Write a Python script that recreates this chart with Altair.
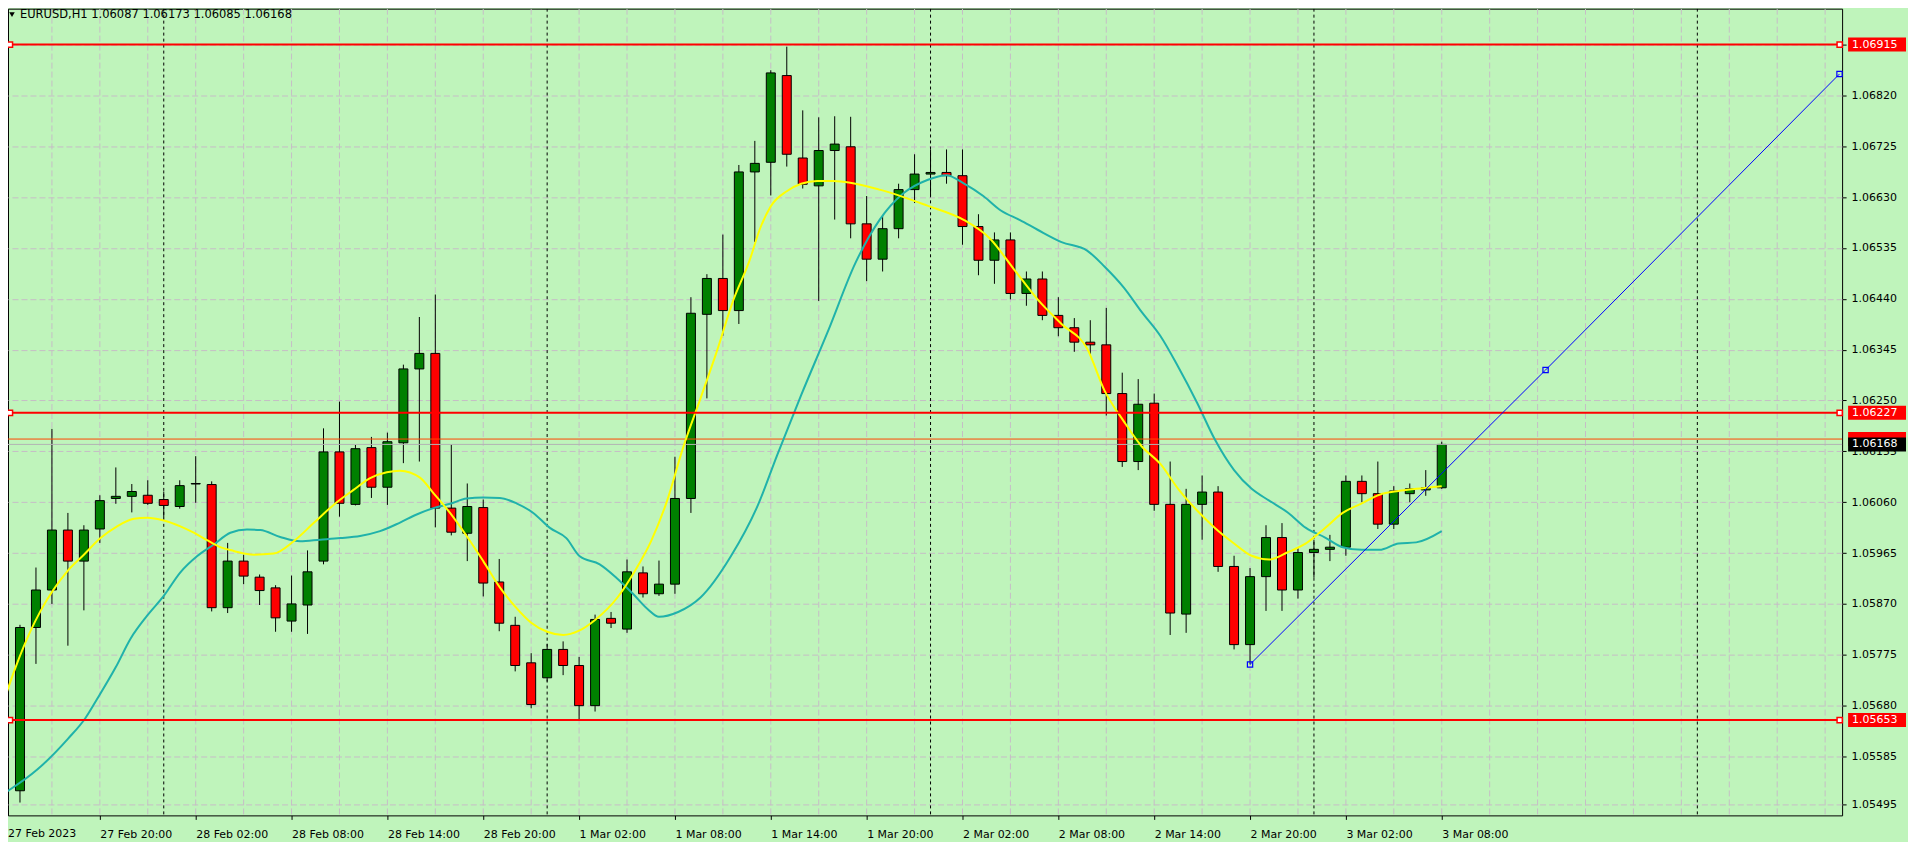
import altair as alt
import pandas as pd

# ---------------- data ----------------
bar_index = list(range(91))
opens = [1.05625, 1.05521, 1.05826, 1.05896, 1.06008, 1.05950, 1.06010, 1.06067, 1.06071, 1.06073,
         1.06065, 1.06052, 1.06094, 1.06093, 1.05863, 1.05950, 1.05920, 1.05900, 1.05838, 1.05868,
         1.05950, 1.06154, 1.06056, 1.06162, 1.06088, 1.06171, 1.06309, 1.06338, 1.06049, 1.06002,
         1.06050, 1.05911, 1.05830, 1.05760, 1.05732, 1.05785, 1.05755, 1.05680, 1.05843, 1.05823,
         1.05928, 1.05889, 1.05907, 1.06067, 1.06411, 1.06478, 1.06418, 1.06677, 1.06695, 1.06857,
         1.06703, 1.06651, 1.06717, 1.06724, 1.06580, 1.06514, 1.06571, 1.06644, 1.06673, 1.06676,
         1.06670, 1.06575, 1.06512, 1.06550, 1.06450, 1.06477, 1.06409, 1.06386, 1.06359, 1.06354,
         1.06263, 1.06136, 1.06245, 1.06056, 1.05851, 1.06056, 1.06079, 1.05940, 1.05794, 1.05921,
         1.05994, 1.05896, 1.05966, 1.05972, 1.05976, 1.06099, 1.06076, 1.06019, 1.06076, 1.06083,
         1.06087]
highs = [1.05660, 1.05831, 1.05938, 1.06197, 1.06040, 1.06017, 1.06073, 1.06125, 1.06094, 1.06101,
         1.06080, 1.06101, 1.06146, 1.06099, 1.05984, 1.05962, 1.05925, 1.05905, 1.05923, 1.05970,
         1.06198, 1.06248, 1.06167, 1.06182, 1.06190, 1.06317, 1.06406, 1.06448, 1.06168, 1.06095,
         1.06065, 1.05954, 1.05846, 1.05778, 1.05795, 1.05800, 1.05771, 1.05850, 1.05855, 1.05953,
         1.05940, 1.05951, 1.06145, 1.06443, 1.06486, 1.06560, 1.06690, 1.06735, 1.06867, 1.06911,
         1.06792, 1.06779, 1.06781, 1.06780, 1.06632, 1.06596, 1.06655, 1.06710, 1.06719, 1.06719,
         1.06719, 1.06598, 1.06564, 1.06564, 1.06491, 1.06491, 1.06443, 1.06404, 1.06400, 1.06423,
         1.06302, 1.06290, 1.06263, 1.06136, 1.06085, 1.06110, 1.06090, 1.05960, 1.05937, 1.06017,
         1.06021, 1.05974, 1.05990, 1.05999, 1.06110, 1.06110, 1.06136, 1.06090, 1.06095, 1.06120,
         1.06173]
lows = [1.05560, 1.05499, 1.05758, 1.05870, 1.05792, 1.05858, 1.05984, 1.06057, 1.06041, 1.06055,
        1.06030, 1.06048, 1.06059, 1.05856, 1.05853, 1.05907, 1.05868, 1.05818, 1.05818, 1.05814,
        1.05944, 1.06033, 1.06054, 1.06068, 1.06055, 1.06133, 1.06136, 1.06013, 1.05998, 1.05950,
        1.05884, 1.05819, 1.05744, 1.05675, 1.05725, 1.05737, 1.05653, 1.05669, 1.05825, 1.05816,
        1.05882, 1.05885, 1.05889, 1.06040, 1.06254, 1.06371, 1.06393, 1.06546, 1.06633, 1.06687,
        1.06646, 1.06436, 1.06588, 1.06553, 1.06473, 1.06491, 1.06553, 1.06619, 1.06632, 1.06655,
        1.06541, 1.06484, 1.06468, 1.06439, 1.06427, 1.06400, 1.06370, 1.06341, 1.06336, 1.06222,
        1.06126, 1.06120, 1.06044, 1.05812, 1.05816, 1.05990, 1.05930, 1.05785, 1.05757, 1.05857,
        1.05857, 1.05880, 1.05919, 1.05950, 1.05960, 1.06060, 1.06010, 1.06010, 1.06060, 1.06072,
        1.06085]
closes = [1.05590, 1.05826, 1.05896, 1.06008, 1.05950, 1.06008, 1.06063, 1.06071, 1.06080, 1.06058,
          1.06054, 1.06091, 1.06095, 1.05863, 1.05950, 1.05922, 1.05895, 1.05844, 1.05870, 1.05930,
          1.06154, 1.06058, 1.06160, 1.06088, 1.06173, 1.06309, 1.06338, 1.06049, 1.06004, 1.06052,
          1.05909, 1.05834, 1.05755, 1.05682, 1.05785, 1.05755, 1.05680, 1.05841, 1.05834, 1.05930,
          1.05889, 1.05907, 1.06067, 1.06413, 1.06478, 1.06418, 1.06677, 1.06693, 1.06862, 1.06710,
          1.06654, 1.06717, 1.06729, 1.06580, 1.06514, 1.06571, 1.06644, 1.06673, 1.06676, 1.06670,
          1.06575, 1.06512, 1.06550, 1.06450, 1.06477, 1.06409, 1.06386, 1.06359, 1.06354, 1.06263,
          1.06136, 1.06243, 1.06056, 1.05853, 1.06056, 1.06079, 1.05940, 1.05794, 1.05921, 1.05994,
          1.05896, 1.05966, 1.05972, 1.05976, 1.06099, 1.06076, 1.06019, 1.06081, 1.06085, 1.06087,
          1.06168]

time_label_bars = [0, 6, 12, 18, 24, 30, 36, 42, 48, 54, 60, 66, 72, 78, 84, 90]
time_labels = ["27 Feb 2023", "27 Feb 20:00", "28 Feb 02:00", "28 Feb 08:00", "28 Feb 14:00",
               "28 Feb 20:00", "1 Mar 02:00", "1 Mar 08:00", "1 Mar 14:00", "1 Mar 20:00",
               "2 Mar 02:00", "2 Mar 08:00", "2 Mar 14:00", "2 Mar 20:00", "3 Mar 02:00",
               "3 Mar 08:00"]
price_ticks = [1.06915, 1.06820, 1.06725, 1.06630, 1.06535, 1.06440, 1.06345, 1.06250, 1.06155,
               1.06060, 1.05965, 1.05870, 1.05775, 1.05680, 1.05585, 1.05495]
day_separator_bars = [10, 34, 58, 82, 106]

fast_ma_bar = [0, 0.73, 1.67, 2.29, 3.96, 5.0, 6.04, 7.08, 8.13, 8.96, 10.0, 11.04, 11.88, 12.71,
               13.54, 14.38, 15.63, 16.88, 18.13, 19.38, 20.63, 21.88, 22.92, 23.96, 24.79, 26.04,
               26.88, 27.92, 28.96, 30.0, 31.04, 32, 33, 34, 35, 36, 37, 38.4, 39.5, 40.5, 41.5,
               42.5, 43.6, 44.6, 45.6, 46.7, 47.3, 48.0, 49.0, 49.9, 50.9, 51.9, 54.8, 57.8, 60.1,
               61.7, 63.2, 64.7, 66.2, 67.8, 68.9, 70.1, 71.2, 72.4, 73.5, 74.7, 75.8, 77.0, 78.1,
               79.2, 80.4, 81.5, 82.7, 83.8, 85.0, 86.1, 87.3, 88.4, 90.0]
fast_ma_val = [1.05690, 1.05752, 1.05820, 1.05857, 1.05931, 1.05962, 1.05993, 1.06015, 1.06029,
               1.06031, 1.06026, 1.06015, 1.06003, 1.05989, 1.05976, 1.05969, 1.05962, 1.05964,
               1.05987, 1.06021, 1.06055, 1.06083, 1.06105, 1.06116, 1.06119, 1.06106, 1.06077,
               1.06040, 1.05997, 1.05950, 1.05901, 1.05865, 1.05835, 1.05818, 1.05812, 1.05820,
               1.05840, 1.05882, 1.05932, 1.05987, 1.06062, 1.06161, 1.06254, 1.06340, 1.06433,
               1.06514, 1.06569, 1.06613, 1.06641, 1.06655, 1.06660, 1.06660, 1.06644, 1.06614,
               1.06587, 1.06553, 1.06496, 1.06439, 1.06393, 1.06347, 1.06268, 1.06211, 1.06165,
               1.06131, 1.06085, 1.06044, 1.06012, 1.05983, 1.05960, 1.05953, 1.05967, 1.05983,
               1.06012, 1.06040, 1.06058, 1.06074, 1.06081, 1.06085, 1.06090]

slow_ma_bar = [0, 2.1, 4.0, 5.1, 5.8, 7.0, 7.92, 8.96, 10.0, 11.04, 12.08, 13.13, 14.17, 15.21,
               16.04, 17.29, 18.54, 19.79, 21.04, 22.29, 23.54, 24.79, 25.83, 26.88, 27.92, 28.96,
               30.0, 31.04, 32.08, 33.13, 34.17, 35.2, 36.04, 37.29, 38.33, 39.4, 40.3, 41.0, 42.2,
               43.6, 45.5, 47.2, 48.4, 49.9, 51.6, 53.3, 54.8, 56.3, 57.8, 59.0, 60.1, 61.3, 62.4,
               63.6, 64.7, 66.2, 67.8, 68.9, 70.1, 71.2, 72.4, 73.5, 74.7, 75.8, 77.0, 78.1, 79.2,
               80.4, 81.5, 82.7, 83.8, 85.0, 86.1, 87.3, 88.4, 90.0]
slow_ma_val = [1.05516, 1.05561, 1.05618, 1.05657, 1.05691, 1.05752, 1.05805, 1.05848, 1.05885,
               1.05929, 1.05959, 1.05981, 1.06003, 1.06009, 1.06008, 1.05995, 1.05987, 1.05990,
               1.05993, 1.05997, 1.06006, 1.06022, 1.06037, 1.06049, 1.06057, 1.06067, 1.06069,
               1.06068, 1.06058, 1.06040, 1.06012, 1.05993, 1.05959, 1.05944, 1.05919, 1.05888,
               1.05860, 1.05846, 1.05855, 1.05882, 1.05959, 1.06055, 1.06148, 1.06260, 1.06381,
               1.06507, 1.06587, 1.06637, 1.06662, 1.06671, 1.06655, 1.06632, 1.06605, 1.06587,
               1.06569, 1.06546, 1.06530, 1.06500, 1.06461, 1.06416, 1.06370, 1.06313, 1.06245,
               1.06177, 1.06120, 1.06085, 1.06063, 1.06040, 1.06012, 1.05994, 1.05976, 1.05971,
               1.05971, 1.05983, 1.05985, 1.06006]

level_prices = [1.06915, 1.06227, 1.05653]
ask_price = 1.06178
bid_price = 1.06168
trend_bar = [78, 96.5, 114.9]
trend_val = [1.05757, 1.06307, 1.06860]
header_symbol = "EURUSD,H1"
header_ohlc = ["1.06087", "1.06173", "1.06085", "1.06168"]

# ---------------- layout / style ----------------
W, H = 1837, 808
PX_PER_BAR = 16
XMIN = 0.25
XMAX = XMIN + W / PX_PER_BAR
YMIN, YMAX = 1.05475, 1.06982
BG = "#BFF4BB"
GRID = "#C6BDC6"
FONT = "DejaVu Sans"
TICK, LPAD = 4, 9

xs = alt.Scale(domain=[XMIN, XMAX], nice=False, zero=False, padding=0)
ys = alt.Scale(domain=[YMIN, YMAX], nice=False, zero=False, padding=0)

label_expr = "[" + ",".join("'%s'" % t for t in time_labels) + "][round(datum.value / 6)]"
x_axis = alt.Axis(values=time_label_bars[1:], labelExpr=label_expr, labelAlign="left",
                  grid=False, domain=False, ticks=True, tickSize=TICK, tickColor="black",
                  labelColor="black", labelFont=FONT, labelFontSize=11, labelPadding=LPAD,
                  title=None, labelOverlap=False, labelFlush=False, labelBound=False)
y_axis = alt.Axis(orient="right", values=price_ticks, format=".5f", grid=True, gridDash=[6, 3],
                  gridColor=GRID, gridWidth=1, domain=False, ticks=True, tickSize=4,
                  tickColor="black", labelColor="black", labelFont=FONT, labelFontSize=11,
                  labelPadding=5, title=None, labelOverlap=False)


def X(field):
    return alt.X(field, type="quantitative", scale=xs, axis=x_axis)


def Y(field):
    return alt.Y(field, type="quantitative", scale=ys, axis=y_axis)


candles = pd.DataFrame({"bar": bar_index, "open": opens, "high": highs, "low": lows,
                        "close": closes})

grid_bars = list(range(3, 116, 3))
vgrid = alt.Chart(pd.DataFrame({"bar": grid_bars})).mark_rule(
    color=GRID, strokeDash=[6, 3], strokeWidth=1, clip=True).encode(x=X("bar"))

daysep = alt.Chart(pd.DataFrame({"bar": day_separator_bars})).mark_rule(
    color="black", strokeDash=[3, 3], strokeWidth=1, clip=True).encode(x=X("bar"))

wicks = alt.Chart(candles).mark_rule(color="black", strokeWidth=1, clip=True).encode(
    x=X("bar"), y=Y("low"), y2="high:Q")

bodies = alt.Chart(candles).mark_bar(size=9, stroke="black", strokeWidth=1, clip=True).encode(
    x=X("bar"), y=Y("open"), y2="close:Q",
    fill=alt.condition("datum.close >= datum.open", alt.value("#008000"), alt.value("#FF0000")))

askbid = alt.Chart(pd.DataFrame({"price": [ask_price, bid_price],
                                 "c": ["#FF4500", "#B4B4B4"]})).mark_rule(strokeWidth=1).encode(
    y=Y("price"), color=alt.Color("c:N", scale=None))

fast = alt.Chart(pd.DataFrame({"bar": fast_ma_bar, "v": fast_ma_val})).mark_line(
    color="#FFFF00", strokeWidth=2, interpolate="monotone", clip=True).encode(
    x=X("bar"), y=Y("v"))

slow = alt.Chart(pd.DataFrame({"bar": slow_ma_bar, "v": slow_ma_val})).mark_line(
    color="#20B2AA", strokeWidth=2, interpolate="monotone", clip=True).encode(
    x=X("bar"), y=Y("v"))

levels = alt.Chart(pd.DataFrame({"price": level_prices})).mark_rule(
    color="#FF0000", strokeWidth=2).encode(y=Y("price"))

handle_rows = []
for p in level_prices:
    handle_rows.append({"bar": XMIN + 0.12, "price": p})
    handle_rows.append({"bar": XMAX - 0.15, "price": p})
level_handles = alt.Chart(pd.DataFrame(handle_rows)).mark_point(
    shape="square", filled=True, fill="white", stroke="#FF0000", strokeWidth=1.5, size=28,
    opacity=1).encode(x=X("bar"), y=Y("price"))

trend_df = pd.DataFrame({"bar": trend_bar, "v": trend_val})
trend = alt.Chart(trend_df).mark_line(color="#0000FF", strokeWidth=1).encode(
    x=X("bar"), y=Y("v"))
trend_handles = alt.Chart(trend_df).mark_point(
    shape="square", filled=False, color="#0000FF", strokeWidth=1.2, size=28, opacity=1).encode(
    x=X("bar"), y=Y("v"))

box_df = pd.DataFrame({
    "price": [level_prices[0], level_prices[1], level_prices[2], ask_price, bid_price],
    "text": ["%.5f" % level_prices[0], "%.5f" % level_prices[1], "%.5f" % level_prices[2],
             "", "%.5f" % bid_price],
    "fill": ["#FF0000", "#FF0000", "#FF0000", "#FF0000", "#000000"],
    "order": [0, 1, 2, 3, 4]})
boxes = alt.Chart(box_df).mark_rect(yOffset=-7, y2Offset=7).encode(
    x=alt.value(W + 6), x2=alt.value(W + 64),
    y=Y("price"), y2="price:Q",
    fill=alt.Color("fill:N", scale=None), order="order:Q")
box_text = alt.Chart(box_df).mark_text(align="left", baseline="middle", color="white",
                                       font=FONT, fontSize=11).encode(
    x=alt.value(W + 10), y=Y("price"), text="text:N", order="order:Q")

# first time label (its bar sits on the left border, so it is drawn as text)
first_label = alt.Chart(pd.DataFrame({"t": [time_labels[0]]})).mark_text(
    align="left", baseline="top", font=FONT, fontSize=11, color="black").encode(
    x=alt.value(0), y=alt.value(H + TICK + LPAD), text="t:N")

header = alt.Chart(pd.DataFrame({"t": [header_symbol + "  " + " ".join(header_ohlc)]})).mark_text(
    align="left", baseline="middle", font=FONT, fontSize=11.5, color="black").encode(
    x=alt.value(12), y=alt.value(6), text="t:N")
tri = alt.Chart(pd.DataFrame({"t": [header_symbol]})).mark_point(
    shape="triangle-down", filled=True, color="black", size=30, opacity=1).encode(
    x=alt.value(4), y=alt.value(6))

chart = alt.layer(vgrid, daysep, wicks, bodies, askbid, slow, fast, levels, trend,
                  trend_handles, level_handles, boxes, box_text, first_label, header,
                  tri).properties(
    width=W, height=H, background=BG,
    autosize=alt.AutoSizeParams(type="none"),
    padding={"left": 0, "top": 0, "right": 66, "bottom": 26}
).configure_view(stroke="black", strokeWidth=1, fill=BG)

chart.save("out.html", embed_options={"renderer": "svg", "actions": False})
